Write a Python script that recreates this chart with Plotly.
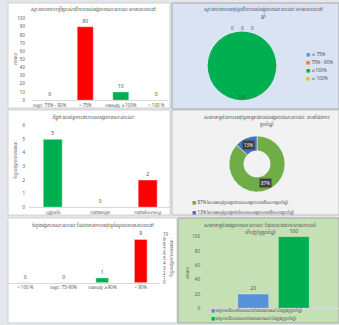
import math
import plotly.graph_objects as go

W, H = 339, 325
GREEN = "#00b050"
RED = "#ff0000"

# ---- panel 1: budget execution bars ----
p1_title = "ស្ថានភាពការប្រើប្រាស់ថវិការបស់អង្គភាពសាធារណៈតាមគោលដៅ"
p1_cats = ["ចន្លោះ 75% - 90%", "< 75%", "ការអនុវត្ត ≥100%", "> 100 %"]
p1_vals = [0, 90, 10, 0]
p1_colors = [GREEN, RED, GREEN, GREEN]
p1_ytitle = "ភាគរយ"

# ---- panel 2: budget execution pie ----
p2_title = "ស្ថានភាពការអនុវត្តថវិការបស់អង្គភាពសាធារណៈតាមគោលដៅ<br>ឆ្នាំ"
p2_cats = ["≤ 75%", "75% - 90%", "≥100%", "≥ 100%"]
p2_vals = [0, 0, 100, 0]
p2_colors = ["#5b9bd5", "#ed7d31", GREEN, "#ffc000"]

# ---- panel 3: performance score bars ----
p3_title = "ពិន្ទុវាយតម្លៃការងាររបស់អង្គភាពសាធារណៈ"
p3_cats = ["ល្អប្រសើរ", "ការងារមធ្យម", "ការងារមិនទាន់ល្អ"]
p3_vals = [5, 0, 2]
p3_colors = [GREEN, GREEN, RED]
p3_ytitle = "ចំនួនអង្គភាពសាធារណៈ"

# ---- panel 4: project completion donut ----
p4_title = "សមាមាត្រនៃការអនុវត្តគម្រោងរបស់អង្គភាពសាធារណៈ តាមផែនការ<br>ប្រចាំឆ្នាំ"
p4_cats = ["87% នៃការអនុវត្តគម្រោងបានសម្រេចតាមផែនការប្រចាំឆ្នាំ",
           "13% នៃការអនុវត្តគម្រោងមិនបានសម្រេចតាមផែនការប្រចាំឆ្នាំ"]
p4_vals = [87, 13]
p4_colors = ["#70ad47", "#4472c4"]

# ---- panel 5: revenue execution bars ----
p5_title = "ចំនួនអង្គភាពសាធារណៈដែលមានការអនុវត្តចំណូលតាមគោលដៅ"
p5_cats = ["> 100 %", "ចន្លោះ 75-90%", "ការអនុវត្ត ≥90%", "< 90%"]
p5_vals = [0, 0, 1, 9]
p5_colors = [GREEN, GREEN, GREEN, RED]
p5_ytitle = "ចំនួនអង្គភាពសាធារណៈ"

# ---- panel 6: financial report submission ----
p6_title = "សមាមាត្រនៃអង្គភាពសាធារណៈ ដែលបានដាក់របាយការណ៍<br>ហិរញ្ញវត្ថុប្រចាំឆ្នាំ"
p6_series = ["អង្គភាពដែលមិនបានដាក់របាយការណ៍ហិរញ្ញវត្ថុប្រចាំឆ្នាំ",
             "អង្គភាពដែលបានដាក់របាយការណ៍ហិរញ្ញវត្ថុប្រចាំឆ្នាំ"]
p6_vals = [20, 100]
p6_colors = ["#5592d8", GREEN]
p6_ytitle = "ភាគរយ"


def X(v):
    return v / W


def Y(v):
    return 1 - v / H


FONT = "Noto Sans, DejaVu Sans, sans-serif"
TXT = "#505050"
fig = go.Figure()

bar_text = dict(size=5, color=TXT, family=FONT)

fig.add_trace(go.Bar(x=p1_cats, y=p1_vals, marker_color=p1_colors, width=0.45,
                     marker_line=dict(color="rgba(255,255,255,0.6)", width=0.5),
                     text=p1_vals, textposition="outside", textfont=bar_text,
                     cliponaxis=False, xaxis="x", yaxis="y"))
fig.add_trace(go.Bar(x=p3_cats, y=p3_vals, marker_color=p3_colors, width=0.4,
                     text=p3_vals, textposition="outside", textfont=bar_text,
                     cliponaxis=False, xaxis="x2", yaxis="y2"))
fig.add_trace(go.Bar(x=p5_cats, y=p5_vals, marker_color=p5_colors, width=0.33,
                     text=p5_vals, textposition="outside", textfont=bar_text,
                     cliponaxis=False, xaxis="x3", yaxis="y3"))
for i, (name, v, c) in enumerate(zip(p6_series, p6_vals, p6_colors)):
    fig.add_trace(go.Bar(x=["a"], y=[v], name=name, marker_color=c, width=0.23,
                         offset=-0.25 + i * 0.3, text=[v], textposition="outside",
                         textfont=bar_text, cliponaxis=False, xaxis="x4", yaxis="y4"))

# pies
P2C, P2R = (242, 64), 35
fig.add_trace(go.Pie(labels=p2_cats, values=p2_vals, marker=dict(colors=p2_colors),
                     sort=False, direction="clockwise", rotation=0, textinfo="none",
                     domain=dict(x=[X(P2C[0] - P2R), X(P2C[0] + P2R)],
                                 y=[Y(P2C[1] + P2R), Y(P2C[1] - P2R)])))
P4C, P4R, HOLE = (257, 164), 28.5, 0.47
fig.add_trace(go.Pie(labels=p4_cats, values=p4_vals, hole=HOLE,
                     marker=dict(colors=p4_colors, line=dict(color="white", width=0.5)),
                     sort=False, direction="clockwise", rotation=0, textinfo="none",
                     domain=dict(x=[X(P4C[0] - P4R), X(P4C[0] + P4R)],
                                 y=[Y(P4C[1] + P4R), Y(P4C[1] - P4R)])))

# panel backgrounds
panels = [
    (8, 0, 170, 107, "white", "#d0d0d0"),
    (172, 0, 339, 108, "#dae3f3", "#a6a6a6"),
    (8, 109, 170, 216, "white", "#d0d0d0"),
    (172, 109, 339, 216, "#f2f2f2", "#bfbfbf"),
    (8, 219, 177, 326, "white", "#d0d0d0"),
    (178, 219, 339, 326, "#c5e0b4", "#a6a6a6"),
]
shapes = []
for x0, y0, x1, y1, fc, lc in panels:
    shapes.append(dict(type="rect", xref="paper", yref="paper", x0=X(x0), x1=X(x1),
                       y0=Y(y1), y1=Y(y0), fillcolor=fc, line=dict(color=lc, width=1),
                       layer="below"))

ann = []


def note(x, y, text, size=5, angle=0, color=TXT, xanchor="center", **kw):
    ann.append(dict(x=X(x), y=Y(y), xref="paper", yref="paper", text=text,
                    showarrow=False, textangle=angle, xanchor=xanchor, yanchor="middle",
                    font=dict(size=size, color=color, family=FONT), **kw))


# titles
note(93, 7, p1_title)
note(263, 10, p2_title)
note(93, 117, "<i>" + p3_title + "</i>")
note(267, 120, p4_title)
note(93, 227, p5_title)
note(260, 231, p6_title)

# axis titles
note(15, 57, p1_ytitle, size=4.5, angle=-90)
note(15, 160, p3_ytitle, size=4.5, angle=-90)
note(171, 260, p5_ytitle, size=4.5, angle=-90)
note(187, 275, p6_ytitle, size=4.5, angle=-90)

# panel 2 slice labels from cumulative shares
tot = sum(p2_vals)
cum = 0
zero_i = 0
for v in p2_vals:
    mid = (cum + v / 2) / tot * 2 * math.pi
    cum += v
    if v > 0:
        r = P2R * 0.9
        note(P2C[0] + r * math.sin(mid), P2C[1] - r * math.cos(mid), str(v), size=4.5)
    else:
        r = P2R + 4
        note(P2C[0] + r * math.sin(mid) - 10 + zero_i * 10, P2C[1] - r * math.cos(mid),
             str(v), size=4.5)
        zero_i += 1

# panel 4 slice labels
tot = sum(p4_vals)
cum = 0
for v in p4_vals:
    mid = (cum + v / 2) / tot * 2 * math.pi
    cum += v
    r = P4R * (1 + HOLE) / 2
    note(P4C[0] + r * math.sin(mid), P4C[1] - r * math.cos(mid), f"{v}%", size=4.5,
         color="white", bgcolor="#404040", borderpad=1)

# legends
for i, (lab, c) in enumerate(zip(p2_cats, p2_colors)):
    note(304, 52 + 8 * i, f'<span style="color:{c}">■</span> {lab}', size=4.5,
         xanchor="left")
for i, (lab, c) in enumerate(zip(p4_cats, p4_colors)):
    note(190, 203 + 10 * i, f'<span style="color:{c}">■</span> {lab}', size=4.5,
         xanchor="left")
for i, (lab, c) in enumerate(zip(p6_series, p6_colors)):
    note(209, 313 + 8 * i, f'<span style="color:{c}">■</span> {lab}', size=4.5,
         xanchor="left")

tick_font = dict(size=4.5, color="#595959", family=FONT)
xcommon = dict(type="category", showgrid=False, zeroline=False, showline=True,
               linecolor="#d9d9d9", linewidth=1, ticks="", tickfont=tick_font)
ycommon = dict(showgrid=False, zeroline=False, showline=False, ticks="", tickfont=tick_font)

fig.update_layout(
    width=W, height=H, margin=dict(l=0, r=0, t=0, b=0),
    paper_bgcolor="#e3e6ea", plot_bgcolor="rgba(0,0,0,0)",
    showlegend=False, barmode="overlay",
    font=dict(family=FONT, size=5, color=TXT),
    shapes=shapes, annotations=ann,
    xaxis=dict(xcommon, domain=[X(32), X(168)], range=[-0.5, 3.33], categoryarray=p1_cats,
               anchor="y"),
    yaxis=dict(ycommon, domain=[Y(99), Y(16)], range=[0, 100], dtick=10, anchor="x",
               ticklabelstandoff=6),
    xaxis2=dict(xcommon, domain=[X(29), X(170)], range=[-0.5, 2.47], categoryarray=p3_cats,
                anchor="y2"),
    yaxis2=dict(ycommon, domain=[Y(208), Y(125)], range=[0, 6], dtick=1, anchor="x2",
                ticklabelstandoff=3),
    xaxis3=dict(xcommon, domain=[X(6), X(160)], range=[-0.5, 3.5], categoryarray=p5_cats,
                anchor="y3"),
    yaxis3=dict(ycommon, domain=[Y(285), Y(236)], range=[0, 10], dtick=1, anchor="x3",
                side="right", ticklabelstandoff=2),
    xaxis4=dict(xcommon, domain=[X(204), X(339)], range=[-0.5, 0.5], showticklabels=False,
                anchor="y4"),
    yaxis4=dict(ycommon, domain=[Y(311), Y(238)], range=[0, 100], dtick=20, anchor="x4",
                ticklabelstandoff=3),
)

fig.write_html("out.html")
